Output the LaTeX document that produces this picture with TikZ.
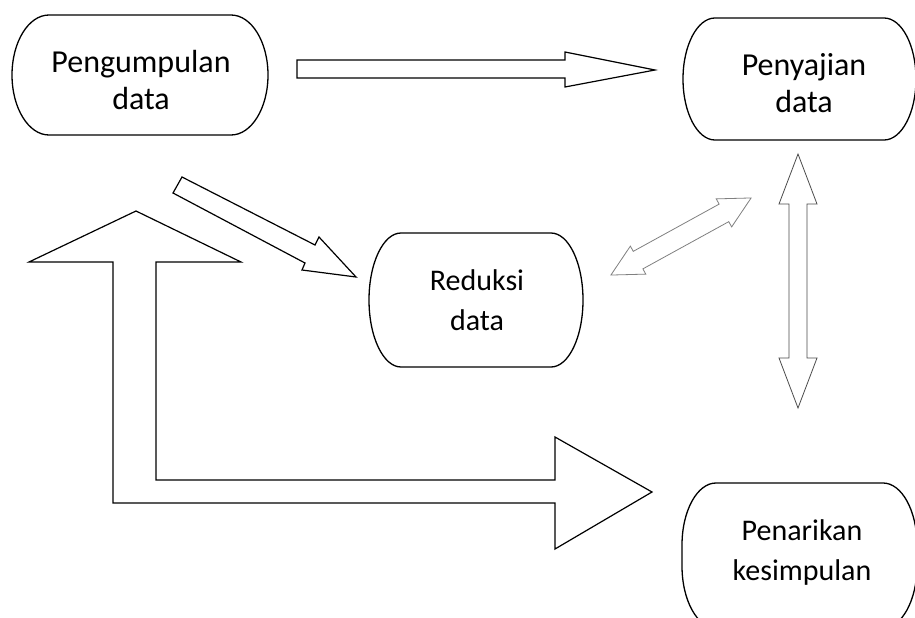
\documentclass[tikz,border=0pt]{standalone}
\usepackage{fontspec}
\setmainfont{Carlito}
\begin{document}
\begin{tikzpicture}[x=1pt,y=1pt,
  boxline/.style={draw=black,line width=1.3pt,line join=round},
  blockarrow/.style={draw=black,line width=1.2pt,line join=miter,fill=white},
  thinarrow/.style={draw=black!70,line width=0.8pt,line join=miter,fill=white},
  faintarrow/.style={draw=black!50,line width=0.8pt,line join=miter,fill=white},
  lbl/.style={align=center,font=\fontsize{30}{40}\selectfont,inner sep=0pt},
  biglbl/.style={align=center,font=\fontsize{32}{36.5}\selectfont,inner sep=0pt}]
\useasboundingbox (0,0) rectangle (915,-618);
\fill[white] (0,0) rectangle (915,-618);
\clip (0,0) rectangle (915,-618);
\newcommand\termbox[6]{%
  \draw[boxline] (#1+#5,-#2) -- (#3-#5,-#2)
    arc[start angle=90,end angle=0,x radius=#5pt,y radius=#6pt]
    -- (#3,-#4+#6)
    arc[start angle=0,end angle=-90,x radius=#5pt,y radius=#6pt]
    -- (#1+#5,-#4)
    arc[start angle=270,end angle=180,x radius=#5pt,y radius=#6pt]
    -- (#1,-#2-#6)
    arc[start angle=180,end angle=90,x radius=#5pt,y radius=#6pt]
    -- cycle;}
% boxes
\termbox{12}{15}{268}{135}{37}{60}
\termbox{683}{18}{916}{140}{32}{61}
\termbox{369}{233}{583}{367}{32}{67}
\termbox{682}{483}{917}{628}{34}{62}
% labels
\node[biglbl] (pg) at (141,-80) {Pengumpulan\\data};
\node[biglbl] (py) at (804,-83) {Penyajian\\data};
\node[lbl] (rd) at (477,-300) {Reduksi\\data};
\node[lbl] (pn) at (802,-552) {Penarikan\\kesimpulan};
% top horizontal arrow
\draw[blockarrow] (297,-60) -- (565,-60) -- (565,-52) -- (655,-70) -- (565,-87) -- (565,-78) -- (297,-78) -- cycle;
% diagonal arrow to Reduksi
\draw[blockarrow] (182,-177) -- (315,-245) -- (319,-237) -- (356,-277) -- (302,-270) -- (305,-263) -- (173,-193) -- cycle;
% big L arrow
\draw[blockarrow] (136,-211) -- (241,-262) -- (156,-262) -- (156,-480) -- (555,-480) -- (555,-437) -- (652,-492) -- (555,-549) -- (555,-503) -- (113,-503) -- (113,-262) -- (29,-262) -- cycle;
% vertical double arrow
\draw[thinarrow] (798,-154) -- (817,-204) -- (807,-204) -- (807,-358) -- (817,-358) -- (798,-408) -- (779,-358) -- (789,-358) -- (789,-204) -- (779,-204) -- cycle;
% diagonal double arrow
\begin{scope}[shift={(681,-236.5)},rotate=28.8]
\draw[faintarrow] (80,0) -- (49,16) -- (49,10) -- (-49,10) -- (-49,16) -- (-80,0) -- (-49,-16) -- (-49,-10) -- (49,-10) -- (49,-16) -- cycle;
\end{scope}
\end{tikzpicture}
\end{document}
